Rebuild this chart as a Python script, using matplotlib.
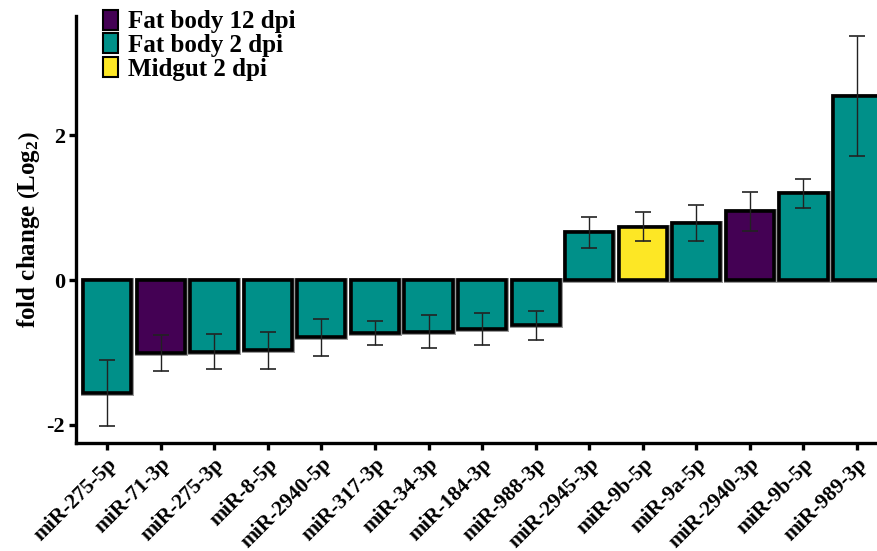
import numpy as np
import matplotlib
matplotlib.use('Agg')
import matplotlib.pyplot as plt
from matplotlib.patches import Patch

# --------------------------
#  Dados
# --------------------------
mirnas = ['miR-275-5p', 'miR-71-3p', 'miR-275-3p', 'miR-8-5p', 'miR-2940-5p',
          'miR-317-3p', 'miR-34-3p', 'miR-184-3p', 'miR-988-3p', 'miR-2945-3p',
          'miR-9b-5p', 'miR-9a-5p', 'miR-2940-3p', 'miR-9b-5p', 'miR-989-3p']
fold_change = [-1.56, -1.01, -0.99, -0.97, -0.79, -0.73, -0.71, -0.68, -0.62,
               0.66, 0.74, 0.79, 0.95, 1.20, 2.55]
erro = [0.45, 0.25, 0.24, 0.26, 0.26, 0.16, 0.23, 0.22, 0.20,
        0.21, 0.20, 0.25, 0.27, 0.20, 0.83]
grupo = ['FB2', 'FB12', 'FB2', 'FB2', 'FB2', 'FB2', 'FB2', 'FB2', 'FB2',
         'FB2', 'MG2', 'FB2', 'FB12', 'FB2', 'FB2']

grupos = ['FB12', 'FB2', 'MG2']
nomes_grupos = ['Fat body 12 dpi', 'Fat body 2 dpi', 'Midgut 2 dpi']
cores = {'FB12': '#440154', 'FB2': '#009089', 'MG2': '#FDE725'}

# --------------------------
#  Estilo
# --------------------------
plt.rcParams['font.family'] = ['Liberation Serif', 'DejaVu Serif']
plt.rcParams['font.weight'] = 'bold'
plt.rcParams['axes.unicode_minus'] = False
plt.rcParams['mathtext.fontset'] = 'custom'
plt.rcParams['mathtext.rm'] = 'Liberation Serif:bold'
plt.rcParams['mathtext.bf'] = 'Liberation Serif:bold'

fig = plt.figure(figsize=(8.77, 5.51), dpi=100)
ax = fig.add_axes([0.0867, 0.196, 0.926, 0.775])

x = np.arange(len(mirnas))
cor_barras = [cores[g] for g in grupo]

# contorno cinza fino por baixo, borda preta grossa por cima
ax.bar(x, fold_change, width=0.9, color=cor_barras, edgecolor='#9a9a9a',
       linewidth=3.6, zorder=2)
ax.bar(x, fold_change, width=0.9, color=cor_barras, edgecolor='black',
       linewidth=2.6, zorder=3)
ax.errorbar(x, fold_change, yerr=erro, fmt='none', ecolor='#222222',
            elinewidth=1, capsize=5.5, capthick=1.2, zorder=4)

ax.set_xlim(-0.58, 14.58)
ax.set_ylim(-2.25, 3.65)
ax.set_yticks([-2, 0, 2])
ax.set_yticklabels(['-2', '0', '2'], fontsize=16, fontweight='bold')
ax.set_xticks(x)
ax.set_xticklabels(mirnas, rotation=45, ha='right', rotation_mode='anchor',
                   fontsize=15.5, fontweight='bold')

for lado in ['top', 'right']:
    ax.spines[lado].set_visible(False)
for lado in ['left', 'bottom']:
    ax.spines[lado].set_linewidth(2.4)
ax.tick_params(axis='both', width=2.4, length=5, color='black')
ax.tick_params(axis='x', pad=3)
ax.tick_params(axis='y', pad=3)

ax.set_ylabel(r'fold change $\left(\mathbf{Log_2}\right)$', fontsize=18,
              fontweight='bold', labelpad=3)

# --------------------------
#  Legenda
# --------------------------
handles = [Patch(facecolor=cores[g], edgecolor='black', linewidth=1.5) for g in grupos]
ax.legend(handles, nomes_grupos, loc='upper left', bbox_to_anchor=(0.021, 1.038),
          frameon=False, handlelength=0.6, handleheight=0.85,
          handletextpad=0.4, labelspacing=0.0, borderaxespad=0,
          prop={'family': 'Liberation Serif', 'weight': 'bold', 'size': 18})

fig.savefig('out.png', dpi=100)
